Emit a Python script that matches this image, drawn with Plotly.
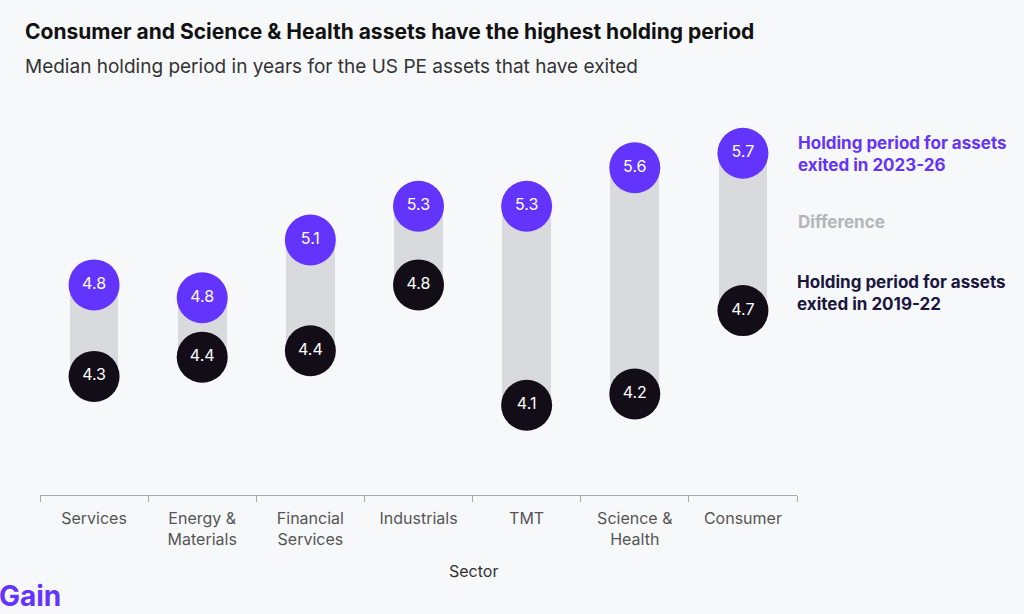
import plotly.graph_objects as go

sectors = ["Services", "Energy &<br>Materials", "Financial<br>Services", "Industrials",
           "TMT", "Science &<br>Health", "Consumer"]
exited_2023_26 = [4.84, 4.76, 5.12, 5.33, 5.33, 5.57, 5.66]
exited_2019_22 = [4.27, 4.39, 4.43, 4.84, 4.09, 4.16, 4.68]

PURPLE = "#6434FF"
DARK = "#130D18"
GRAY = "#D9DADD"
BG = "#F7F8FA"
FONT = "Inter"

diff = [a - b for a, b in zip(exited_2023_26, exited_2019_22)]

fig = go.Figure()
fig.add_trace(go.Bar(
    x=sectors, y=diff, base=exited_2019_22, width=0.45,
    marker=dict(color=GRAY, line=dict(width=0)), hoverinfo="skip", showlegend=False))
fig.add_trace(go.Scatter(
    x=sectors, y=exited_2019_22, mode="markers+text",
    marker=dict(size=51, color=DARK, line=dict(width=0)),
    text=[f"{v:.1f}" for v in exited_2019_22], textposition="middle center",
    textfont=dict(color="white", size=16, family=FONT), showlegend=False, hoverinfo="skip"))
fig.add_trace(go.Scatter(
    x=sectors, y=exited_2023_26, mode="markers+text",
    marker=dict(size=51, color=PURPLE, line=dict(width=0)),
    text=[f"{v:.1f}" for v in exited_2023_26], textposition="middle center",
    textfont=dict(color="white", size=16, family=FONT), showlegend=False, hoverinfo="skip"))

L, R, T, B = 40, 227, 100, 119
W, H = 1024, 614
pw = W - L - R

def px(x):
    return (x - L) / pw

def py(y):
    return (H - B - y) / (H - T - B)

annotations = [
    dict(text="<b>Consumer and Science &amp; Health assets have the highest holding period</b>",
         xref="paper", yref="paper", x=px(23), y=py(32), xanchor="left", yanchor="middle",
         showarrow=False, font=dict(size=21, color="#111111", family=FONT)),
    dict(text="Median holding period in years for the US PE assets that have exited",
         xref="paper", yref="paper", x=px(23), y=py(66), xanchor="left", yanchor="middle",
         showarrow=False, font=dict(size=19, color="#333333", family=FONT)),
    dict(text="<b>Holding period for assets<br>exited in 2023-26</b>",
         xref="paper", yref="paper", x=px(796), y=py(154), xanchor="left", yanchor="middle",
         align="left", showarrow=False, font=dict(size=17, color=PURPLE, family=FONT)),
    dict(text="<b>Difference</b>",
         xref="paper", yref="paper", x=px(796), y=py(222), xanchor="left", yanchor="middle",
         align="left", showarrow=False, font=dict(size=17, color="#B4B5B8", family=FONT)),
    dict(text="<b>Holding period for assets<br>exited in 2019-22</b>",
         xref="paper", yref="paper", x=px(795), y=py(293), xanchor="left", yanchor="middle",
         align="left", showarrow=False, font=dict(size=17, color="#1A1640", family=FONT)),
    dict(text="Sector",
         xref="paper", yref="paper", x=px(473), y=py(571), xanchor="center", yanchor="middle",
         showarrow=False, font=dict(size=16, color="#333333", family=FONT)),
    dict(text="<b>Gain</b>",
         xref="paper", yref="paper", x=px(-3), y=py(615), xanchor="left", yanchor="bottom",
         showarrow=False, font=dict(size=28, color=PURPLE, family=FONT)),
]

fig.update_layout(
    width=W, height=H,
    margin=dict(l=L, r=R, t=T, b=B, pad=0),
    paper_bgcolor=BG, plot_bgcolor=BG,
    font=dict(family=FONT, color="#444444"),
    annotations=annotations,
    hovermode=False,
    bargap=0,
    xaxis=dict(type="category", range=[-0.5, 6.5], tickson="boundaries", ticks="outside",
               ticklen=6, tickcolor="#AAAAAA", showline=True, linecolor="#AAAAAA", linewidth=1,
               ticklabelstandoff=9,
               showgrid=False, zeroline=False, tickfont=dict(size=16, color="#555555", family=FONT),
               fixedrange=True),
    yaxis=dict(range=[3.531, 5.992], visible=False, showgrid=False, zeroline=False, fixedrange=True),
)

fig.write_html("out.html")
